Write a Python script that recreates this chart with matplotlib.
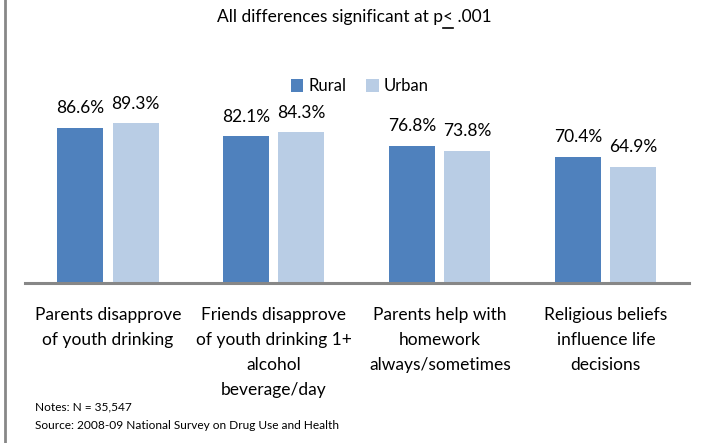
import matplotlib.pyplot as plt
import numpy as np
from matplotlib.lines import Line2D

plt.rcParams['font.family'] = ['Lato', 'DejaVu Sans']

cats = ['Parents disapprove\nof youth drinking',
        'Friends disapprove\nof youth drinking 1+\nalcohol\nbeverage/day',
        'Parents help with\nhomework\nalways/sometimes',
        'Religious beliefs\ninfluence life\ndecisions']
rural = [86.6, 82.1, 76.8, 70.4]
urban = [89.3, 84.3, 73.8, 64.9]

c_rural = '#4F81BD'
c_urban = '#B9CDE5'

fig = plt.figure(figsize=(7.05, 4.43), dpi=100)
ax = fig.add_axes([0.0355, 0.361, 0.9415, 0.404])

x = np.arange(len(cats))
w = 0.277
off = 0.166
b1 = ax.bar(x - off, rural, w, color=c_rural, label='Rural', zorder=2)
b2 = ax.bar(x + off, urban, w, color=c_urban, label='Urban', zorder=2)

for bars, vals in ((b1, rural), (b2, urban)):
    for r, v in zip(bars, vals):
        ax.text(r.get_x() + r.get_width() / 2, v + 6.5, '%.1f%%' % v,
                ha='center', va='bottom', fontsize=12.5)

ax.set_xlim(-0.5, 3.5)
ax.set_ylim(0, 100)
for s in ['top', 'right', 'left']:
    ax.spines[s].set_visible(False)
ax.spines['bottom'].set_color('#878787')
ax.spines['bottom'].set_linewidth(2.2)
ax.set_yticks([])
ax.set_xticks(x)
ax.set_xticklabels(cats, fontsize=12.5, linespacing=1.7, va='top')
ax.tick_params(axis='x', length=0, pad=17)

fig.legend(handles=[b1, b2], loc='center', bbox_to_anchor=(0.51, 0.805), ncol=2,
           frameon=False, fontsize=12, handlelength=0.75, handleheight=0.75,
           handletextpad=0.3, columnspacing=1.2)

# subtitle, with underlined "<"
fig.text(0.628, 0.962, 'All differences significant at p', ha='right', va='center', fontsize=12.5)
fig.text(0.628, 0.962, '< .001', ha='left', va='center', fontsize=12.5)
fig.add_artist(Line2D([0.629, 0.643], [0.936, 0.936], color='black', lw=1.2))

fig.text(0.05, 0.081, 'Notes: N = 35,547', fontsize=8.6, va='center')
fig.text(0.05, 0.040, 'Source: 2008-09 National Survey on Drug Use and Health', fontsize=8.6, va='center')

fig.add_artist(Line2D([0.0075, 0.0075], [0, 1], color='#878787', lw=2))

fig.savefig('out.png', dpi=100)
